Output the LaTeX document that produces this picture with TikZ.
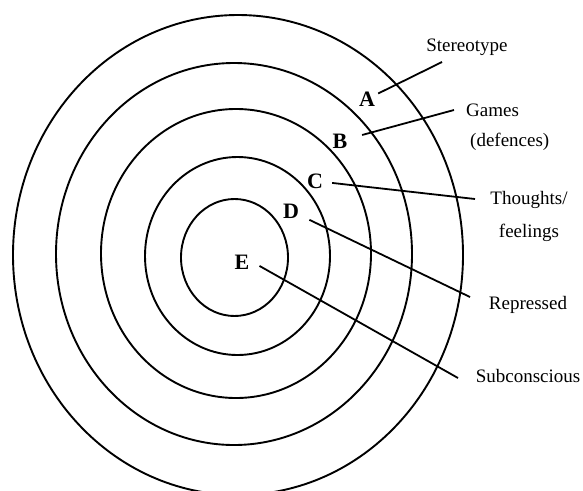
\documentclass[tikz,border=0pt]{standalone}
\usepackage{fontspec}
\setmainfont{Liberation Serif}
\usetikzlibrary{positioning}
\tikzset{
  ring/.style={draw=black, line width=1.9pt},
  ln/.style={draw=black, line width=1.8pt},
  let/.style={font=\fontsize{22}{26}\selectfont\bfseries, inner sep=3pt},
  txt/.style={font=\fontsize{19}{23}\selectfont, inner sep=1pt, text height=14pt, text depth=5pt},
}
\begin{document}
\begin{tikzpicture}[x=1pt, y=-1pt]
\useasboundingbox (0,0) rectangle (583,490);
% rings, outer to inner
\draw[ring] (238,255) ellipse [x radius=225pt, y radius=240pt];
\draw[ring] (234,254) ellipse [x radius=178pt, y radius=191pt];
\draw[ring] (236,253.5) ellipse [x radius=135pt, y radius=144.5pt];
\draw[ring] (237.5,256) ellipse [x radius=92.5pt, y radius=99pt];
\draw[ring] (234.5,257.5) ellipse [x radius=53.5pt, y radius=58.5pt];
% letters
\node[let] (A) at (367,99) {A};
\node[let] (B) at (340,141) {B};
\node[let] (C) at (315,181) {C};
\node[let] (D) at (291,211) {D};
\node[let] (E) at (242,262) {E};
% labels
\node[txt] (st) at (467,47) {Stereotype};
\node[txt, anchor=west] (gm) at (465,112) {Games};
\node[txt, below=9pt of gm.south west, anchor=north west, xshift=4pt] (df) {(defences)};
\node[txt] (th) at (529,200) {Thoughts/};
\node[txt, below=12pt of th] (fe) {feelings};
\node[txt] (rp) at (528,305) {Repressed};
\node[txt] (sc) at (528,378) {Subconscious};
% line ends
\coordinate (tA) at (442,62);
\coordinate (tB) at (454,110);
\coordinate (tC) at (475,199);
\coordinate (tD) at (470,297);
\coordinate (tE) at (458,378);
\draw[ln] (A) -- (tA);
\draw[ln, shorten <=12pt] (B) -- (tB);
\draw[ln, shorten <=6pt] (C) -- (tC);
\draw[ln, shorten <=8pt] (D) -- (tD);
\draw[ln, shorten <=8pt] (E.east) -- (tE);
\end{tikzpicture}
\end{document}
